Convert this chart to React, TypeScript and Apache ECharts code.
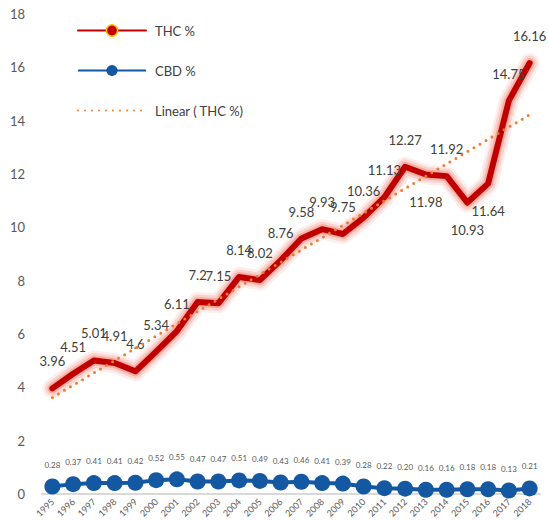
import React, { useEffect, useRef } from "react";
import * as echarts from "echarts";

const years = ["1995","1996","1997","1998","1999","2000","2001","2002","2003","2004","2005","2006","2007","2008","2009","2010","2011","2012","2013","2014","2015","2016","2017","2018"];
const thc = [3.96,4.51,5.01,4.91,4.6,5.34,6.11,7.2,7.15,8.14,8.02,8.76,9.58,9.93,9.75,10.36,11.13,12.27,11.98,11.92,10.93,11.64,14.75,16.16];
const cbd = [0.28,0.37,0.41,0.41,0.42,0.52,0.55,0.47,0.47,0.51,0.49,0.43,0.46,0.41,0.39,0.28,0.22,0.20,0.16,0.16,0.18,0.18,0.13,0.21];
const yTicks = { min: 0, max: 18, interval: 2 };

// label placement (style only)
const belowYears = ["2013", "2015", "2016"];

function linearFit(ys: number[]): number[] {
  const n = ys.length;
  const mx = (n - 1) / 2;
  const my = ys.reduce((a, b) => a + b, 0) / n;
  let sxy = 0, sxx = 0;
  ys.forEach((y, i) => { sxy += (i - mx) * (y - my); sxx += (i - mx) * (i - mx); });
  const b = sxy / sxx;
  const a = my - b * mx;
  return ys.map((_, i) => +(a + b * i).toFixed(3));
}

export default function App() {
  const ref = useRef<HTMLDivElement>(null);
  useEffect(() => {
    document.body.style.margin = "0";
    const chart = echarts.init(ref.current!, null, { renderer: "svg" });
    const font = "Lato, 'Open Sans', sans-serif";
    const trend = linearFit(thc);
    const glow = (w: number, a: number, id: string) => ({
      id,
      name: "glow" + id,
      type: "line",
      data: thc,
      symbol: "none",
      silent: true,
      lineStyle: { color: `rgba(238,90,70,${a})`, width: w, join: "round", cap: "round" },
      z: 2,
    });
    chart.setOption({
      animation: false,
      textStyle: { fontFamily: font },
      grid: { left: 42, right: 9, top: 14, bottom: 28 },
      legend: {
        orient: "vertical",
        left: 72,
        top: 19,
        itemWidth: 68,
        itemHeight: 14,
        itemGap: 27,
        textStyle: { fontSize: 13, color: "#404040", fontFamily: font, padding: [0, 0, 0, 4] },
        data: [
          { name: "THC %", itemStyle: { color: "#c00000", borderColor: "#ffc000", borderWidth: 1.5 } },
          { name: "CBD %" },
          { name: "Linear ( THC %)", itemStyle: { opacity: 0 } },
        ],
      },
      xAxis: {
        type: "category",
        data: years,
        boundaryGap: true,
        axisLine: { lineStyle: { color: "#d9d9d9", width: 2 } },
        axisTick: { show: false },
        axisLabel: { rotate: 45, fontSize: 9, color: "#595959", margin: 6, interval: 0 },
      },
      yAxis: {
        type: "value",
        min: yTicks.min,
        max: yTicks.max,
        interval: yTicks.interval,
        splitLine: { show: false },
        axisLine: { show: false },
        axisTick: { show: false },
        axisLabel: { fontSize: 13, color: "#595959", margin: 17 },
      },
      series: [
        glow(20, 0.1, "g1"),
        glow(15, 0.18, "g2"),
        glow(10, 0.3, "g3"),
        {
          name: "THC %",
          type: "line",
          data: thc.map((v, i) => ({
            value: v,
            label: { position: belowYears.includes(years[i]) ? "bottom" : "top" },
          })),
          symbol: "circle",
          symbolSize: 1,
          itemStyle: { color: "#c00000", borderWidth: 0 },
          lineStyle: { color: "#c00000", width: 6, join: "round", cap: "round" },
          label: { show: true, fontSize: 13, color: "#404040", distance: 20, fontFamily: font },
          z: 3,
        },
        {
          name: "CBD %",
          type: "line",
          data: cbd,
          symbol: "circle",
          symbolSize: 16,
          itemStyle: { color: "#1458a2" },
          lineStyle: { color: "#1458a2", width: 4 },
          label: {
            show: true,
            position: "top",
            fontSize: 8,
            color: "#595959",
            distance: 10,
            fontFamily: font,
            formatter: (p: any) => Number(p.value).toFixed(2),
          },
          z: 3,
        },
        {
          name: "Linear ( THC %)",
          type: "line",
          data: trend,
          symbol: "none",
          itemStyle: { color: "#ed7d31" },
          lineStyle: { color: "#ed7d31", width: 3, type: [0, 7], cap: "round" },
          z: 4,
        },
      ],
    });
    return () => chart.dispose();
  }, []);
  return <div ref={ref} style={{ width: 549, height: 522 }} />;
}
